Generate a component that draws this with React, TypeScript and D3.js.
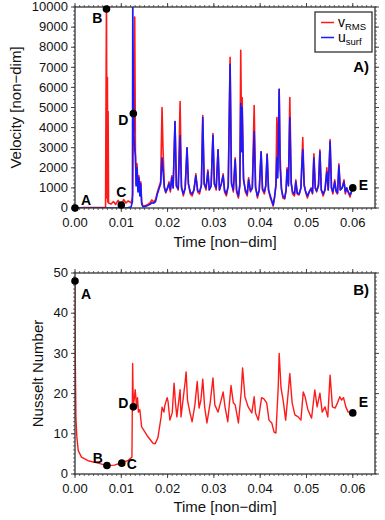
import React from 'react';
import * as d3 from 'd3';

// velocity panel: time, v_RMS, u_surf
const velTime = [
  0, 0.002, 0.0045, 0.0066, 0.0068, 0.0069, 0.007, 0.00708, 0.00715, 0.00725,
  0.0078, 0.0083, 0.0088, 0.0093, 0.0098, 0.0101, 0.0105, 0.011, 0.0115, 0.0121,
  0.0124, 0.01248, 0.0126, 0.01275, 0.0129, 0.01305, 0.0132, 0.0134, 0.0136, 0.0138,
  0.014, 0.0142, 0.0144, 0.0147, 0.0152, 0.0157, 0.0162, 0.0166, 0.017, 0.0174,
  0.0178, 0.0182, 0.0185, 0.0188, 0.019, 0.0193, 0.0196, 0.02, 0.0203, 0.0206,
  0.0209, 0.0212, 0.0216, 0.0219, 0.0223, 0.0227, 0.023, 0.0234, 0.0238, 0.0242,
  0.0245, 0.0249, 0.0253, 0.0257, 0.0261, 0.0265, 0.0269, 0.0273, 0.0276, 0.0279,
  0.0283, 0.0287, 0.029, 0.0294, 0.0298, 0.0301, 0.0305, 0.0309, 0.0312, 0.0316,
  0.032, 0.0323, 0.0327, 0.0331, 0.0335, 0.0338, 0.0342, 0.0346, 0.0349, 0.0353,
  0.0356, 0.0358, 0.036, 0.0361, 0.0364, 0.0368, 0.0372, 0.0375, 0.0379, 0.0383,
  0.0387, 0.039, 0.0394, 0.0398, 0.0402, 0.0405, 0.0409, 0.0412, 0.0415, 0.0418,
  0.0422, 0.0426, 0.0428, 0.0431, 0.0434, 0.0436, 0.0438, 0.0441, 0.0443, 0.0446,
  0.0449, 0.0453, 0.0456, 0.0458, 0.0461, 0.0464, 0.0467, 0.047, 0.0474, 0.0477,
  0.048, 0.0484, 0.0488, 0.049, 0.0492, 0.0495, 0.0498, 0.0502, 0.0506, 0.051,
  0.0513, 0.0516, 0.0519, 0.0522, 0.0526, 0.0529, 0.0532, 0.0536, 0.054, 0.0544,
  0.0547, 0.0551, 0.0554, 0.0557, 0.0561, 0.0564, 0.0567, 0.057, 0.0573, 0.0577,
  0.0581, 0.0584, 0.0587, 0.059, 0.0594, 0.0597, 0.06,
];
const vRms = [
  0, 20, 20, 30, 10500, 500, 6500, 300, 4800, 250,
  200, 320, 180, 380, 200, 150, 420, 250, 350, 250,
  500, 700, 4000, 3800, 9500, 2800, 1200, 2200, 900, 1600,
  700, 1300, 300, 80, 120, 180, 250, 400, 300, 420,
  800, 1100, 1300, 5000, 3000, 1100, 750, 1000, 1300, 800,
  1600, 1000, 4300, 1100, 900, 5300, 1100, 600, 1000, 3000,
  1200, 700, 600, 900, 1700, 800, 700, 1200, 4600, 1200,
  900, 1900, 900, 1100, 3700, 1200, 900, 2900, 900, 1200,
  1700, 800, 600, 1100, 7500, 1300, 800, 2500, 800, 500,
  1200, 7850, 3000, 5500, 1500, 800, 600, 1500, 800, 1000,
  5100, 1100, 500, 900, 2800, 900, 700, 1100, 2700, 900,
  500, 250, 100, 500, 1200, 4500, 1800, 5900, 2600, 1000,
  500, 450, 900, 2000, 1200, 5500, 1300, 700, 600, 1400,
  700, 650, 1000, 2200, 3500, 1200, 800, 500, 800, 1000,
  700, 2700, 1000, 800, 1200, 2900, 900, 600, 900, 2000,
  900, 3400, 1000, 700, 1400, 800, 700, 2200, 900, 1000,
  1400, 700, 1000, 800, 550, 800, 1000,
];
const uSurf = [
  0, 0, 0, 0, 0, 0, 0, 0, 0, 0,
  0, 0, 0, 0, 0, 0, 0, 0, 20, 50,
  300, 10500, 6100, 3500, 2900, 2600, 1100, 2000, 800, 1500,
  600, 1200, 200, 60, 80, 120, 180, 260, 240, 320,
  700, 1000, 1200, 2500, 1900, 1000, 800, 1000, 1200, 900,
  1500, 1000, 4300, 1100, 950, 3600, 1000, 700, 1000, 3000,
  1200, 800, 700, 900, 1600, 850, 800, 1100, 4500, 1200,
  1000, 1800, 900, 1100, 3600, 1200, 1000, 2900, 900, 1200,
  1600, 900, 700, 1100, 7150, 1200, 900, 2400, 900, 600,
  1100, 5200, 2800, 5000, 1400, 900, 700, 1400, 850, 1000,
  3800, 1000, 600, 900, 2800, 950, 800, 1100, 2650, 900,
  600, 300, 150, 550, 1100, 2500, 1500, 5900, 2000, 900,
  600, 500, 900, 1900, 1100, 4500, 1200, 800, 700, 1300,
  750, 700, 1000, 2100, 2900, 1100, 850, 600, 800, 950,
  750, 2500, 1000, 850, 1100, 2800, 900, 700, 900, 1800,
  900, 3300, 1000, 800, 1300, 850, 750, 2100, 900, 1000,
  1300, 800, 1000, 800, 650, 800, 1000,
];

// Nusselt panel
const nuTime = [
  0, 0.00005, 0.0002, 0.0004, 0.0007, 0.0014, 0.0028, 0.005, 0.0069, 0.0085,
  0.0101, 0.0115, 0.0123, 0.01245, 0.0126, 0.013, 0.0133, 0.0135, 0.0137, 0.014,
  0.0144, 0.0158, 0.0168, 0.0173, 0.0179, 0.0186, 0.0188, 0.0192, 0.0194, 0.0199,
  0.0201, 0.0205, 0.021, 0.0214, 0.0217, 0.022, 0.0227, 0.0229, 0.0238, 0.024,
  0.0243, 0.0248, 0.0253, 0.0259, 0.0264, 0.0268, 0.0272, 0.0276, 0.028, 0.0285,
  0.0292, 0.0298, 0.0302, 0.0309, 0.0317, 0.032, 0.0324, 0.033, 0.0337, 0.0342,
  0.0346, 0.0353, 0.0359, 0.0362, 0.0367, 0.0374, 0.0382, 0.0387, 0.039, 0.0396,
  0.0403, 0.0408, 0.0414, 0.0419, 0.0425, 0.043, 0.0434, 0.0439, 0.0441, 0.0445,
  0.045, 0.0455, 0.0461, 0.0464, 0.0469, 0.0475, 0.0482, 0.0488, 0.0493, 0.0497,
  0.0503, 0.0511, 0.0518, 0.0523, 0.0529, 0.0534, 0.054, 0.0546, 0.0551, 0.0556,
  0.0562, 0.0567, 0.0572, 0.0576, 0.058, 0.0585, 0.059, 0.0594, 0.06,
];
const nusselt = [
  48, 30, 14, 9.2, 5.8, 4.2, 3.3, 2.7, 2.1, 2.2,
  2.8, 3.4, 4.2, 27.5, 16.5, 21, 16.7, 19, 15.4, 16,
  11.7, 9.2, 7.7, 7.5, 9, 14.2, 16.6, 15.4, 17, 19,
  18, 13.4, 15.2, 22.6, 17.7, 14.2, 21, 14.2, 23, 25.4,
  18.4, 15.4, 13, 17.2, 23, 16.4, 18.4, 23.6, 16.7, 12.7,
  17.7, 23.9, 17.2, 15.4, 19, 20.4, 16.7, 13, 22, 17.7,
  17.2, 12.7, 20.4, 26.4, 19.2, 16.7, 15.2, 19.2, 15.2, 13.4,
  19, 18.7, 17.7, 13.4, 12.7, 10.4, 10.2, 21.7, 30, 21.4,
  18, 13.4, 20.9, 25, 17.7, 14.7, 14.2, 13.4, 20.4, 19.2,
  16, 13.9, 20.9, 16.7, 20.1, 15.4, 16.7, 14.2, 24.6, 16.7,
  16.4, 17.7, 19.2, 18.4, 19, 16.7, 15.4, 15.4, 15.2,
];

// labelled stages
const markLabels = ['A', 'B', 'C', 'D', 'E'];
const velMarkTime = [0, 0.0068, 0.01, 0.0126, 0.06];
const velMarkValue = [0, 9900, 150, 4700, 1000];
const nuMarkTime = [0, 0.0069, 0.0101, 0.0126, 0.06];
const nuMarkValue = [48, 2.1, 2.7, 16.7, 15.2];

const xTicks = [0, 0.01, 0.02, 0.03, 0.04, 0.05, 0.06];
const velTicks = [0, 1000, 2000, 3000, 4000, 5000, 6000, 7000, 8000, 9000, 10000];
const nuTicks = [0, 10, 20, 30, 40, 50];

const FONT = '"Liberation Sans", Arial, Helvetica, sans-serif';
const LEFT = 75;
const RIGHT = 375;
const X_MAX = 0.0648;

const xScale = d3.scaleLinear().domain([0, X_MAX]).range([LEFT, RIGHT]);
const fmtX = d3.format('.2f');

// label offsets per stage letter: [dx, dy, anchor]
const velLabelPos = [[6, -8, 'start'], [-4, 9, 'end'], [0, -13, 'middle'], [-5, 6, 'end'], [6, -3, 'start']];
const nuLabelPos = [[6, 13, 'start'], [-4, -8, 'end'], [5, 1, 'start'], [-5, -4, 'end'], [6, -11, 'start']];

const Frame = ({ top, bottom, yScale, yTicks, yMinor, id }) => {
  const xMinor = d3.range(0, X_MAX, 0.001);
  const tickColor = '#444';
  return (
    <g>
      {xMinor.map((t, i) => (
        <g key={'xm' + i}>
          <line x1={xScale(t)} x2={xScale(t)} y1={bottom} y2={bottom + 2} stroke={tickColor} strokeWidth={0.8} />
          <line x1={xScale(t)} x2={xScale(t)} y1={top} y2={top - 2} stroke={tickColor} strokeWidth={0.8} />
        </g>
      ))}
      {xTicks.map((t) => (
        <g key={'x' + t}>
          <line x1={xScale(t)} x2={xScale(t)} y1={bottom} y2={bottom + 4} stroke={tickColor} strokeWidth={1} />
          <line x1={xScale(t)} x2={xScale(t)} y1={top} y2={top - 4} stroke={tickColor} strokeWidth={1} />
          <text x={xScale(t)} y={bottom + 18.5} textAnchor="middle" fontSize={13} fontFamily={FONT} fill="#111">
            {fmtX(t)}
          </text>
        </g>
      ))}
      {yMinor.map((v, i) => (
        <g key={'ym' + i}>
          <line x1={LEFT} x2={LEFT - 2} y1={yScale(v)} y2={yScale(v)} stroke={tickColor} strokeWidth={0.8} />
          <line x1={RIGHT} x2={RIGHT + 2} y1={yScale(v)} y2={yScale(v)} stroke={tickColor} strokeWidth={0.8} />
        </g>
      ))}
      {yTicks.map((v) => (
        <g key={'y' + v}>
          <line x1={LEFT} x2={LEFT - 4} y1={yScale(v)} y2={yScale(v)} stroke={tickColor} strokeWidth={1} />
          <line x1={RIGHT} x2={RIGHT + 4} y1={yScale(v)} y2={yScale(v)} stroke={tickColor} strokeWidth={1} />
          <text x={LEFT - 7} y={yScale(v)} dy="0.33em" textAnchor="end" fontSize={13} fontFamily={FONT} fill="#111">
            {v}
          </text>
        </g>
      ))}
      <clipPath id={id}>
        <rect x={LEFT} y={top} width={RIGHT - LEFT} height={bottom - top} />
      </clipPath>
    </g>
  );
};

const Marks = ({ times, values, yScale, pos }) => (
  <g>
    {times.map((t, i) => {
      const cx = xScale(t);
      const cy = yScale(values[i]);
      const [dx, dy, anchor] = pos[i];
      return (
        <g key={markLabels[i]}>
          <circle cx={cx} cy={cy} r={3.8} fill="#000" />
          <text
            x={cx + dx}
            y={cy + dy}
            dy="0.36em"
            textAnchor={anchor}
            fontSize={14}
            fontWeight="bold"
            fontFamily={FONT}
            fill="#000"
          >
            {markLabels[i]}
          </text>
        </g>
      );
    })}
  </g>
);

const App = () => {
  const topA = 7;
  const botA = 208;
  const topB = 273;
  const botB = 474;

  const yVel = d3.scaleLinear().domain([0, 10000]).range([botA, topA]);
  const yNu = d3.scaleLinear().domain([0, 50]).range([botB, topB]);

  const velLine = (vals) => d3.line()
    .x((d, i) => xScale(velTime[i]))
    .y((d) => yVel(d))(vals);
  const nuLine = d3.line()
    .x((d, i) => xScale(nuTime[i]))
    .y((d) => yNu(d))(nusselt);

  return (
    <svg width={385} height={520} style={{ position: 'absolute', left: 0, top: 0, background: '#fff' }}>
      {/* panel A */}
      <Frame top={topA} bottom={botA} yScale={yVel} yTicks={velTicks} yMinor={d3.range(0, 10001, 200)} id="clipA" />
      <g clipPath="url(#clipA)">
        <path d={velLine(vRms)} fill="none" stroke="#ff1a1a" strokeWidth={1.6} strokeLinejoin="round" />
        <path d={velLine(uSurf)} fill="none" stroke="#1a1aff" strokeWidth={1.6} strokeLinejoin="round" />
      </g>
      <rect x={LEFT} y={topA} width={RIGHT - LEFT} height={botA - topA} fill="none" stroke="#333" strokeWidth={1.3} />
      <Marks times={velMarkTime} values={velMarkValue} yScale={yVel} pos={velLabelPos} />
      <g fontFamily={FONT}>
        <rect x={315} y={12} width={57} height={40} fill="#fff" stroke="#222" strokeWidth={1.2} />
        <line x1={321} x2={334} y1={22.5} y2={22.5} stroke="#ff1a1a" strokeWidth={1.5} />
        <line x1={321} x2={334} y1={37.5} y2={37.5} stroke="#1a1aff" strokeWidth={1.5} />
        <text x={338} y={26.5} fontSize={14} fill="#000">
          v<tspan fontSize={9.5} dy={3}>RMS</tspan>
        </text>
        <text x={338} y={41.5} fontSize={14} fill="#000">
          u<tspan fontSize={9.5} dy={3}>surf</tspan>
        </text>
      </g>
      <text x={369} y={72} textAnchor="end" fontSize={15} fontWeight="bold" fontFamily={FONT}>A)</text>
      <text x={225} y={247} textAnchor="middle" fontSize={15} fontFamily={FONT} fill="#111">Time [non−dim]</text>
      <text
        transform={`translate(21,${(topA + botA) / 2}) rotate(-90)`}
        textAnchor="middle"
        fontSize={15}
        fontFamily={FONT}
        fill="#111"
      >
        Velocity [non−dim]
      </text>

      {/* panel B */}
      <Frame top={topB} bottom={botB} yScale={yNu} yTicks={nuTicks} yMinor={d3.range(0, 51, 1)} id="clipB" />
      <g clipPath="url(#clipB)">
        <path d={nuLine} fill="none" stroke="#ff1a1a" strokeWidth={1.4} strokeLinejoin="round" />
      </g>
      <rect x={LEFT} y={topB} width={RIGHT - LEFT} height={botB - topB} fill="none" stroke="#333" strokeWidth={1.3} />
      <Marks times={nuMarkTime} values={nuMarkValue} yScale={yNu} pos={nuLabelPos} />
      <text x={369} y={295} textAnchor="end" fontSize={15} fontWeight="bold" fontFamily={FONT}>B)</text>
      <text x={225} y={512} textAnchor="middle" fontSize={15} fontFamily={FONT} fill="#111">Time [non−dim]</text>
      <text
        transform={`translate(42.5,${(topB + botB) / 2}) rotate(-90)`}
        textAnchor="middle"
        fontSize={15}
        fontFamily={FONT}
        fill="#111"
      >
        Nusselt Number
      </text>
    </svg>
  );
};

export default App;
